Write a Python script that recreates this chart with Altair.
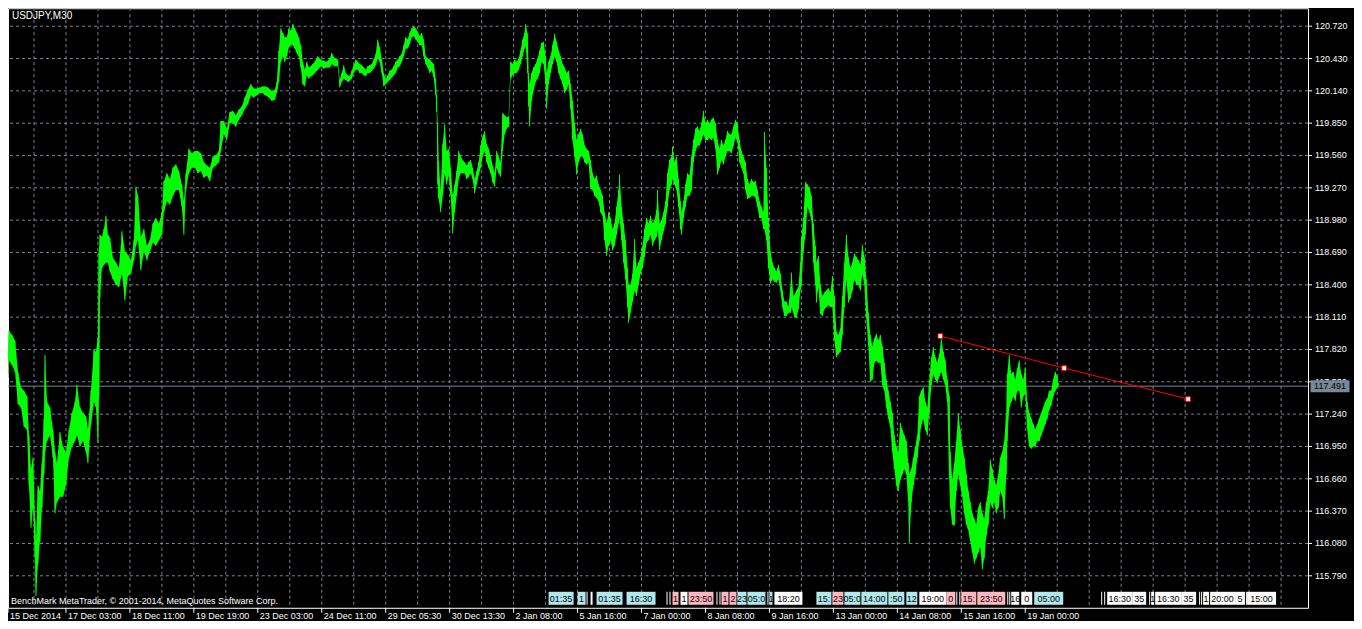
import altair as alt
import pandas as pd

FONT = "Liberation Sans, Arial, sans-serif"
GRID = "#778899"
GREEN = "#00ff00"
FS = 9

# ---- price series (bar position, high, low) ----
xa = [3,6,9,12,15,18,21,24,27,29,31,33,35,36,38,40,42,44,45,47,50,53,55,57,60,63,66,69,72,75,
      77,80,83,86,88,91,94,96,98,99,100,102,104,106,108,110,113,116,119,122,125,128,131,134,136,
      138,141,144,147,150,153,156,159,162,164,167,170,173,176,179,182,184,186,189,192,195,198,201,
      204,207,210,213,216,219,221,224,227,230,233,236,239,242,245,248,251,254,257,260,263]
hia = [117.80,117.85,117.99,117.95,117.90,117.62,117.48,117.45,117.40,117.05,
       116.75,116.85,116.30,116.10,116.60,116.55,116.80,117.20,117.77,117.35,
       117.30,117.10,116.90,116.80,117.08,116.95,116.90,117.10,117.25,117.35,
       117.50,117.30,117.25,117.22,117.10,117.45,117.82,117.80,117.93,118.70,
       118.85,118.83,118.90,119.02,118.85,118.82,118.64,118.60,118.55,118.88,
       118.70,118.67,118.62,118.80,119.28,119.20,118.83,118.90,118.75,118.80,
       118.95,119.00,118.95,119.05,119.33,119.40,119.35,119.45,119.48,119.42,
       119.30,119.15,119.40,119.62,119.58,119.60,119.60,119.58,119.50,119.47,
       119.45,119.55,119.56,119.60,119.87,119.87,119.80,119.95,119.96,119.92,
       119.97,120.00,120.08,120.15,120.20,120.16,120.16,120.17,120.18]
loa = [117.57,117.60,117.72,117.68,117.62,117.33,117.30,117.13,117.10,116.60,
       116.22,116.40,115.95,115.61,115.90,116.10,116.40,116.70,116.90,117.00,
       117.05,116.85,116.35,116.45,116.50,116.50,116.60,116.85,116.95,117.00,
       117.05,116.95,117.00,116.90,116.80,117.15,117.35,117.30,116.98,117.40,
       118.28,118.55,118.58,118.60,118.60,118.52,118.45,118.40,118.38,118.50,
       118.26,118.48,118.50,118.62,118.75,118.80,118.53,118.70,118.62,118.70,
       118.78,118.75,118.80,118.85,119.05,119.15,119.12,119.20,119.25,119.25,
       119.10,118.85,119.25,119.40,119.45,119.45,119.40,119.42,119.36,119.38,
       119.33,119.45,119.47,119.50,119.60,119.75,119.70,119.85,119.85,119.82,
       119.88,119.92,119.98,120.02,120.10,120.08,120.10,120.12,120.12]

xb = [265,268,272,275,277,279,281,283,285,287,289,291,293,295,297,299,301,303,305,307,
      309,311,313,315,318,321,324,327,330,332,335,338,340,342,344,346,348,350,352,354,
      356,358,360,362,364,366,368,370,372,374,376,378,380,382,384,386,388,390,392,394,
      396,398,400,402,404,406,408,410,412,414,416,418,420,422,424,426,428,430,432,434,
      436,437,438,439,441,443,445,447,449,451,453,455,457,459,461,463,465,467,469,471,
      473,475,477,479,481,483,485,487,489,491,493,495,497,499,501,503,505,507,509,511,
      513,515,517,519,521,523,525,526,528,529]
hib = [120.18,120.17,120.14,120.15,120.22,120.50,120.70,120.66,120.62,120.62,
       120.70,120.68,120.74,120.70,120.66,120.62,120.55,120.40,120.33,120.40,
       120.35,120.36,120.38,120.40,120.45,120.42,120.41,120.40,120.43,120.48,
       120.43,120.42,120.24,120.30,120.37,120.30,120.28,120.27,120.32,120.37,
       120.42,120.40,120.38,120.37,120.35,120.33,120.36,120.37,120.38,120.42,
       120.47,120.60,120.53,120.42,120.30,120.25,120.28,120.32,120.33,120.36,
       120.40,120.42,120.45,120.47,120.55,120.62,120.60,120.66,120.70,120.72,
       120.70,120.67,120.63,120.66,120.60,120.45,120.43,120.42,120.40,120.38,
       120.25,120.10,119.85,119.50,119.25,119.66,119.84,119.60,119.62,119.45,
       119.20,119.30,119.42,119.60,119.55,119.52,119.50,119.47,119.50,119.52,
       119.45,119.35,119.42,119.50,119.65,119.73,119.78,119.66,119.62,119.55,
       119.47,119.40,119.60,119.55,119.50,119.94,119.92,119.90,119.91,120.40,
       120.38,120.42,120.40,120.43,120.50,120.60,120.66,120.74,120.65,120.30]
lob = [120.10,120.09,120.05,120.06,120.12,120.22,120.40,120.45,120.40,120.45,
       120.53,120.55,120.55,120.52,120.48,120.45,120.35,120.20,120.18,120.28,
       120.25,120.27,120.28,120.30,120.33,120.36,120.34,120.35,120.35,120.38,
       120.36,120.36,120.17,120.22,120.25,120.24,120.22,120.23,120.25,120.30,
       120.33,120.33,120.30,120.30,120.28,120.27,120.30,120.30,120.32,120.34,
       120.37,120.43,120.40,120.30,120.18,120.20,120.22,120.24,120.26,120.28,
       120.30,120.35,120.36,120.40,120.45,120.52,120.52,120.56,120.62,120.63,
       120.60,120.58,120.55,120.55,120.45,120.38,120.35,120.30,120.32,120.26,
       120.10,119.95,119.30,119.17,119.05,119.20,119.40,119.30,119.38,119.20,
       118.86,119.05,119.20,119.35,119.40,119.40,119.40,119.35,119.37,119.40,
       119.35,119.22,119.30,119.38,119.45,119.55,119.60,119.50,119.45,119.40,
       119.32,119.28,119.45,119.40,119.37,119.60,119.75,119.80,119.82,120.25,
       120.28,120.30,120.30,120.33,120.38,120.45,120.52,120.55,120.30,120.00]

xc = [530,532,534,536,538,540,542,544,546,547,549,551,553,555,557,559,561,563,565,567,
      569,571,573,575,577,579,581,583,585,587,589,591,593,595,597,599,601,603,605,607,
      609,611,613,615,617,619,620,622,624,626,628,629,631,633,635,637,639,641,643,645,
      647,649,651,653,655,657,658,660,662,664,666,668,670,672,673,675,677,679,681,682,
      684,686,688,690,692,694,696,698,700,702,704,706,708,710,712,714,716,718,720,722,
      724,726,728,730,732,734,736,738,740,742,744,746,748,750,752,754,756,758,760,762,
      764,765,767,769,771,773,775,777,779,781,783,785,787,789,791,792,794]
hic = [120.20,120.30,120.35,120.38,120.43,120.50,120.57,120.58,120.45,120.30,
       120.40,120.45,120.55,120.65,120.58,120.50,120.45,120.38,120.35,120.30,
       120.32,120.20,120.05,119.85,119.70,119.75,119.80,119.75,119.65,119.62,
       119.60,119.52,119.40,119.35,119.38,119.30,119.25,119.20,119.05,118.95,
       119.05,119.00,118.90,118.95,119.10,119.25,119.39,119.10,118.95,118.80,
       118.55,118.40,118.40,118.50,118.81,118.55,118.60,118.65,118.75,118.90,
       119.00,118.95,119.02,118.95,118.98,119.07,119.25,118.95,118.98,119.05,
       119.15,119.40,119.52,119.55,119.64,119.50,119.55,119.35,119.15,119.05,
       119.15,119.30,119.40,119.38,119.55,119.70,119.80,119.82,119.78,119.85,
       119.96,119.85,119.88,119.85,119.88,119.90,119.85,119.70,119.62,119.70,
       119.65,119.70,119.78,119.75,119.75,119.82,119.88,119.85,119.70,119.60,
       119.55,119.50,119.35,119.30,119.35,119.32,119.33,119.25,119.15,119.10,
       119.05,119.77,119.45,119.00,118.70,118.60,118.55,118.52,118.58,118.50,
       118.35,118.25,118.25,118.20,118.38,118.51,118.30]
loc = [119.82,120.05,120.15,120.22,120.25,120.30,120.40,120.38,120.20,119.98,
       120.20,120.30,120.38,120.45,120.40,120.30,120.25,120.20,120.12,120.15,
       120.20,119.98,119.70,119.55,119.39,119.50,119.55,119.55,119.50,119.48,
       119.50,119.26,119.25,119.20,119.18,119.15,119.05,119.02,118.80,118.66,
       118.75,118.80,118.71,118.75,118.85,118.95,119.00,118.80,118.60,118.45,
       118.20,118.06,118.15,118.25,118.35,118.30,118.40,118.50,118.55,118.65,
       118.78,118.80,118.85,118.75,118.80,118.83,118.90,118.71,118.80,118.88,
       118.95,119.10,119.25,119.30,119.35,119.30,119.25,119.10,118.90,118.85,
       119.00,119.10,119.20,119.20,119.25,119.50,119.60,119.65,119.65,119.70,
       119.75,119.70,119.70,119.72,119.70,119.72,119.62,119.39,119.45,119.52,
       119.48,119.55,119.60,119.60,119.58,119.65,119.72,119.68,119.50,119.45,
       119.40,119.25,119.17,119.18,119.20,119.20,119.18,119.10,119.00,119.00,
       118.90,118.90,118.80,118.55,118.41,118.45,118.43,118.42,118.45,118.35,
       118.20,118.12,118.12,118.15,118.15,118.20,118.15]

xd = [795,797,799,801,802,804,806,808,810,812,814,816,817,819,821,823,825,827,829,831,
      833,835,837,839,841,843,845,847,849,851,853,855,857,859,861,863,865,867,869,871,
      873,875,877,879,881,883,885,887,889,891,893,895,897,899,901,903,905,907,909,910,
      912,914,916,918,920,922,924,926,928,930,932,934,936,938,940,942,944,946,948,950,
      951,953,955,957,959,961,963,965,967,969,971,973,975,977,979,981,983,985,987,989,
      991,993,995,997,999,1001,1003,1005,1007,1008,1010,1012,1014,1016,1018,1020,1022,
      1024,1026,1028,1030,1032,1034,1036,1038,1040,1042,1044,1046,1048,1050,1052,1054,
      1056,1058,1059]
hid = [118.31,118.35,118.38,118.60,118.82,119.00,119.32,119.30,119.27,119.20,
       118.95,118.75,118.60,118.66,118.40,118.30,118.33,118.35,118.37,118.33,
       118.48,118.30,117.98,117.95,118.01,118.30,118.60,118.85,118.65,118.55,
       118.60,118.68,118.65,118.62,118.58,118.76,118.65,118.45,118.15,117.95,
       117.85,117.92,117.96,117.90,117.95,117.85,117.70,117.55,117.45,117.35,
       117.25,117.05,116.95,116.90,117.16,117.10,117.05,117.00,116.80,116.70,
       116.75,116.85,116.95,117.05,117.40,117.45,117.48,117.35,117.30,117.55,
       117.75,117.84,117.75,117.70,117.78,117.92,117.80,117.72,117.55,117.40,
       116.90,116.65,116.80,117.00,117.25,117.10,116.95,116.85,116.70,116.55,
       116.45,116.35,116.30,116.25,116.40,116.45,116.35,116.30,116.45,116.55,
       116.83,116.75,116.65,116.60,116.70,116.85,116.90,117.00,117.25,117.60,
       117.77,117.60,117.62,117.55,117.65,117.72,117.60,117.55,117.66,117.35,
       117.25,117.20,117.15,117.10,117.15,117.20,117.25,117.30,117.35,117.38,
       117.45,117.45,117.55,117.62,117.58,117.52]
lod = [118.11,118.10,118.18,118.35,118.40,118.70,118.85,119.10,119.05,118.98,
       118.60,118.40,118.24,118.38,118.14,118.12,118.18,118.20,118.22,118.20,
       118.20,117.90,117.75,117.78,117.80,117.95,118.20,118.45,118.24,118.28,
       118.35,118.45,118.40,118.40,118.35,118.50,118.40,118.10,117.85,117.53,
       117.55,117.70,117.72,117.70,117.70,117.50,117.45,117.30,117.20,117.12,
       116.90,116.75,116.60,116.55,116.65,116.70,116.75,116.70,116.45,116.08,
       116.45,116.60,116.70,116.85,117.00,117.15,117.20,117.10,117.05,117.25,
       117.50,117.60,117.55,117.52,117.58,117.62,117.55,117.50,117.35,116.66,
       116.40,116.25,116.24,116.55,116.70,116.60,116.50,116.35,116.25,116.20,
       116.10,116.00,115.90,115.95,116.00,116.05,115.85,115.95,116.15,116.25,
       116.45,116.40,116.45,116.35,116.40,116.55,116.50,116.30,116.70,117.00,
       117.30,117.35,117.40,117.36,117.45,117.45,117.30,117.40,117.42,117.10,
       116.95,116.93,116.95,116.95,117.00,117.00,117.05,117.10,117.15,117.20,
       117.28,117.32,117.40,117.45,117.48,117.49]

# ---- axes / annotations ----
ytick_vals = [115.79, 116.08, 116.37, 116.66, 116.95, 117.24, 117.53, 117.82, 118.11,
              118.40, 118.69, 118.98, 119.27, 119.56, 119.85, 120.14, 120.43, 120.72]
ytick_text = ["115.790", "116.080", "116.370", "116.660", "116.950", "117.240", "117.530",
              "117.820", "118.110", "118.400", "118.690", "118.980", "119.270", "119.560",
              "119.850", "120.140", "120.430", "120.720"]
xlab_bar = [2, 66, 130, 194, 258, 322, 386, 450, 514, 578, 642, 706, 770, 834, 898, 962, 1026]
xlab_text = ["15 Dec 2014", "17 Dec 03:00", "18 Dec 11:00", "19 Dec 19:00", "23 Dec 03:00",
             "24 Dec 11:00", "29 Dec 05:30", "30 Dec 13:30", "2 Jan 08:00", "5 Jan 16:00",
             "7 Jan 00:00", "8 Jan 08:00", "9 Jan 16:00", "13 Jan 00:00", "14 Jan 08:00",
             "15 Jan 16:00", "19 Jan 00:00"]
grid_bar = [34 + 32 * k for k in range(40)]

price_now = [117.491]
price_text = ["117.491"]
trend_bar = [941, 1065, 1189]
trend_price = [117.940, 117.653, 117.375]

badge_start = [549,578,587,591,597,627,667,670,673,681,689,717,720,722,730,738,748,768,770,775,
               817,833,845,862,889,907,920,947,957,960,962,978,1008,1010,1012,1022,1035,1102,
               1105,1108,1133,1150,1152,1156,1182,1200,1202,1204,1211,1236,1247,1248]
badge_end = [574,586,588,593,623,656,668,671,679,688,714,718,721,729,737,747,766,769,773,803,
             832,844,861,888,905,918,947,956,958,961,977,1006,1009,1011,1020,1033,1064,1103,
             1106,1133,1147,1151,1155,1182,1197,1201,1203,1210,1236,1246,1248,1277]
badge_text = ["01:35","1","","","01:35","16:30","","","1","1","23:50","","","1","2","23","05:0",
              "","1","18:20","15:","23","05:0","14:00",":50","12","19:00","0","","","15:",
              "23:50","","","16","0","05:00","","","16:30","35","","1","16:30","35","","","1",
              "20:00","5","","15:00"]
C, P, W = "#b0e8ec", "#ffb6c1", "#ffffff"
badge_color = [C,C,W,W,C,C,W,W,P,W,P,W,W,P,P,C,C,W,C,W,C,P,C,C,C,C,W,P,W,W,P,P,W,W,W,W,C,
               W,W,W,W,W,W,W,W,W,W,W,W,W,W,W]

# ---- tables ----
df = pd.DataFrame({"bar": xa + xb + xc + xd,
                   "high": hia + hib + hic + hid,
                   "low": loa + lob + loc + lod})
df_price = pd.DataFrame({"p": price_now, "t": price_text})
df_trend = pd.DataFrame({"bar": trend_bar, "p": trend_price})
df_xl = pd.DataFrame({"bar": xlab_bar, "label": xlab_text})
df_yt = pd.DataFrame({"p": ytick_vals, "t": ytick_text})
df_grid = pd.DataFrame({"bar": grid_bar})
df_badge = pd.DataFrame({"s": badge_start, "e": badge_end, "t": badge_text, "c": badge_color})
df_badge["m"] = (df_badge["s"] + df_badge["e"]) / 2

xs = alt.Scale(domain=[8, 1309], clamp=True, nice=False, zero=False)
ys = alt.Scale(domain=[115.503, 120.881], nice=False, zero=False)


def X(field):
    return alt.X(field, type="quantitative", scale=xs, axis=None)


def Y(field):
    return alt.Y(field, type="quantitative", scale=ys, axis=None)


hgrid = alt.Chart(df_yt).mark_rule(color=GRID, strokeWidth=1, strokeDash=[3, 3]).encode(
    y=Y("p"))
vgrid = alt.Chart(df_grid).mark_rule(color=GRID, strokeWidth=1, strokeDash=[3, 3]).encode(
    x=X("bar"))
yticks = alt.Chart(df_yt).mark_rule(color="#ffffff", strokeWidth=1).encode(
    y=Y("p"), x=alt.value(1301), x2=alt.value(1305))
ylabels = alt.Chart(df_yt).mark_text(color="#ffffff", font=FONT, fontSize=FS, align="left",
                                     baseline="middle").encode(
    y=Y("p"), x=alt.value(1308), text="t:N")

price_line = alt.Chart(df_price).mark_rule(color=GRID, strokeWidth=1).encode(y=Y("p"))

area = alt.Chart(df).mark_area(color=GREEN, opacity=1, interpolate="linear").encode(
    x=X("bar"), y=Y("low"), y2="high:Q")
spikes = alt.Chart(df).mark_rule(color=GREEN, strokeWidth=1).encode(
    x=X("bar"), y=Y("low"), y2="high:Q")

trend = alt.Chart(df_trend).mark_line(color="#ff0000", strokeWidth=1).encode(
    x=X("bar"), y=Y("p"))
trend_pts = alt.Chart(df_trend).mark_square(size=22, color="#ffffff", stroke="#ff0000",
                                            strokeWidth=1, opacity=1).encode(
    x=X("bar"), y=Y("p"))

box = alt.Chart(df_price).mark_point(shape="M-19.5,-6H19.5V6H-19.5Z", size=4, filled=True,
                                     color=GRID, opacity=1, strokeWidth=0).encode(
    x=alt.value(1323), y=Y("p"))
box_txt = alt.Chart(df_price).mark_text(color="#000000", font=FONT, fontSize=FS,
                                        align="center", baseline="middle").encode(
    x=alt.value(1323), y=Y("p"), text="t:N")

xticks = alt.Chart(df_xl).mark_rule(color="#ffffff", strokeWidth=1).encode(
    x=X("bar"), y=alt.value(600), y2=alt.value(605))
xlabels = alt.Chart(df_xl).mark_text(color="#ffffff", font=FONT, fontSize=FS, align="left",
                                     baseline="top", dx=2).encode(
    x=X("bar"), y=alt.value(604), text="label:N")

badges = alt.Chart(df_badge).mark_rect(opacity=1).encode(
    x=X("s"), x2="e:Q", y=alt.value(584), y2=alt.value(597),
    color=alt.Color("c:N", scale=None))
badge_txt = alt.Chart(df_badge).mark_text(color="#000000", font=FONT, fontSize=FS,
                                          align="center", baseline="middle").encode(
    x=X("m"), y=alt.value(591), text="t:N")

title = alt.Chart(pd.DataFrame({"t": ["USDJPY,M30"]})).mark_text(
    color="#ffffff", font=FONT, fontSize=10, align="left", baseline="top").encode(
    x=alt.value(4), y=alt.value(3), text="t:N")
copyright_txt = alt.Chart(pd.DataFrame({"t": ["BenchMark MetaTrader, © 2001-2014, MetaQuotes Software Corp."]})).mark_text(
    color="#ffffff", font=FONT, fontSize=FS, align="left", baseline="alphabetic").encode(
    x=alt.value(3), y=alt.value(596), text="t:N")

chart = alt.layer(
    hgrid, vgrid, price_line, area, spikes, trend, trend_pts, yticks, ylabels, box, box_txt,
    xticks, xlabels, badges, badge_txt, title, copyright_txt
).properties(
    width=1301, height=600,
    background="#000000",
    padding={"left": 0, "top": 0, "right": 46, "bottom": 13},
    autosize=alt.AutoSizeParams(type="none"),
).configure_view(stroke="#ffffff", strokeWidth=1, fill="#000000")

chart.save("out.html", embed_options={"renderer": "svg", "actions": False})
